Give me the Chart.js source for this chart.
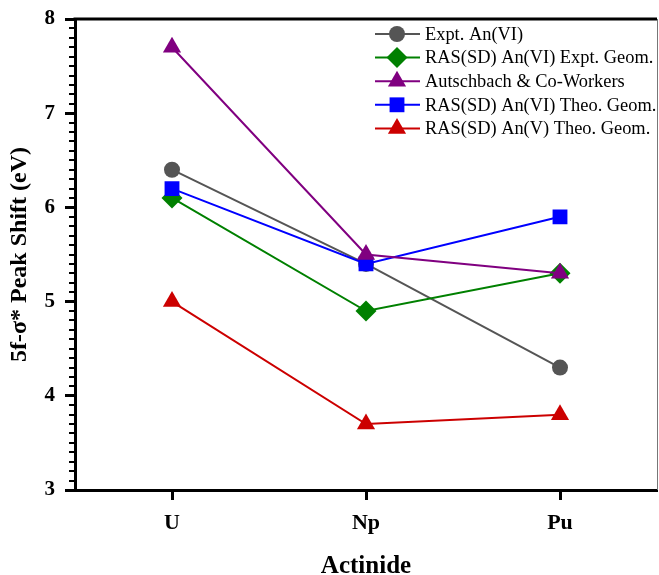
<!DOCTYPE html>
<html>
<head>
<meta charset="utf-8">
<script src="https://cdn.jsdelivr.net/npm/chart.js@4/dist/chart.umd.min.js"></script>
<style>
  html, body { margin: 0; padding: 0; background: #ffffff; overflow: hidden; }
  #wrap { width: 659px; height: 575px; }
  canvas { display: block; }
</style>
</head>
<body>
<div id="wrap"><canvas id="chart" width="659" height="575"></canvas></div>
<script>
// Actinides along the x axis
const actinides = ['U', 'Np', 'Pu'];

// 5f-σ* peak shifts (eV)
const exptAnVI      = [6.4, 5.4, 4.3];
const rasExptGeomVI = [6.1, 4.9, 5.3];
const autschbach    = [7.7, 5.5, 5.3];
const rasTheoGeomVI = [6.2, 5.4, 5.9];
const rasTheoGeomV  = [5.0, 3.7, 3.8];

const seriesNames = [
  'Expt. An(VI)',
  'RAS(SD) An(VI) Expt. Geom.',
  'Autschbach & Co-Workers',
  'RAS(SD) An(VI) Theo. Geom.',
  'RAS(SD) An(V) Theo. Geom.'
];

const yMin = 3, yMax = 8;

const serif = "'Liberation Serif', 'Times New Roman', serif";

function series(label, data, color, style, radius, order) {
  return {
    label, data,
    borderColor: color, backgroundColor: color,
    pointBackgroundColor: color, pointBorderColor: color,
    borderWidth: 2, pointStyle: style, pointRadius: radius,
    pointHoverRadius: radius, pointBorderWidth: 0,
    tension: 0, fill: false, order
  };
}

// Minor ticks on the y axis and the top/right frame lines
const framePlugin = {
  id: 'frame',
  afterDraw(chart) {
    const { ctx, chartArea: a, scales: { y } } = chart;
    ctx.save();
    ctx.strokeStyle = '#000';
    ctx.lineWidth = 2;
    for (let i = yMin * 10; i <= yMax * 10; i++) {
      if (i % 10 === 0) continue;
      const py = Math.round(y.getPixelForValue(i / 10));
      ctx.beginPath();
      ctx.moveTo(a.left - 6, py);
      ctx.lineTo(a.left, py);
      ctx.stroke();
    }
    // top frame
    ctx.lineWidth = 3;
    ctx.beginPath();
    ctx.moveTo(a.left - 1.5, a.top);
    ctx.lineTo(a.right, a.top);
    ctx.stroke();
    // right frame
    ctx.strokeStyle = '#777';
    ctx.lineWidth = 1;
    ctx.beginPath();
    ctx.moveTo(a.right + 0.5, a.top);
    ctx.lineTo(a.right + 0.5, a.bottom);
    ctx.stroke();
    ctx.restore();
  }
};

// Legend listed down the upper-right corner of the plot
const cornerLegend = {
  id: 'cornerLegend',
  afterDraw(chart) {
    const { ctx } = chart;
    const x0 = 375, x1 = 420, mx = 397, tx = 425;
    const y0 = 34, dy = 23.6;
    ctx.save();
    ctx.font = '18.4px ' + serif;
    ctx.textBaseline = 'middle';
    ctx.textAlign = 'left';
    seriesNames.forEach((name, i) => {
      const ds = chart.data.datasets.find(d => d.label === name);
      const yy = y0 + i * dy;
      ctx.strokeStyle = ds.borderColor;
      ctx.lineWidth = 2;
      ctx.beginPath();
      ctx.moveTo(x0, yy);
      ctx.lineTo(x1, yy);
      ctx.stroke();
      ctx.fillStyle = ds.backgroundColor;
      Chart.helpers.drawPoint(ctx, {
        pointStyle: ds.pointStyle, radius: ds.pointRadius, rotation: 0, borderWidth: 0
      }, mx, yy);
      ctx.fillStyle = '#000';
      ctx.fillText(name, tx, yy + 1);
    });
    ctx.restore();
  }
};

new Chart(document.getElementById('chart'), {
  type: 'line',
  data: {
    labels: actinides,
    datasets: [
      series(seriesNames[0], exptAnVI,      '#555555', 'circle',   8,    5),
      series(seriesNames[1], rasExptGeomVI, '#008000', 'rectRot',  10.5, 4),
      series(seriesNames[2], autschbach,    '#800080', 'triangle', 10.5, 2),
      series(seriesNames[3], rasTheoGeomVI, '#0000ff', 'rect',     10.5, 3),
      series(seriesNames[4], rasTheoGeomV,  '#cc0000', 'triangle', 10.5, 1)
    ]
  },
  options: {
    responsive: false,
    animation: false,
    events: [],
    layout: { autoPadding: false, padding: { top: 19, right: 2, left: 0, bottom: 0 } },
    plugins: {
      legend: { display: false },
      tooltip: { enabled: false }
    },
    scales: {
      x: {
        type: 'category',
        offset: true,
        afterFit(s) { s.height = 85; },
        grid: {
          offset: false, drawOnChartArea: false, drawTicks: true,
          tickLength: 10, tickWidth: 3, tickColor: '#000'
        },
        border: { display: true, color: '#000', width: 3 },
        ticks: {
          color: '#000', padding: 10,
          font: { family: serif, size: 22, weight: 'bold' }
        },
        title: {
          display: true, text: 'Actinide', color: '#000',
          font: { family: serif, size: 25, weight: 'bold', lineHeight: 1 },
          padding: { top: 0, bottom: -4 }
        }
      },
      y: {
        min: yMin, max: yMax,
        afterFit(s) { s.width = 75; s.paddingTop = 0; s.paddingBottom = 0; },
        grid: {
          drawOnChartArea: false, drawTicks: true,
          tickLength: 10, tickWidth: 3, tickColor: '#000'
        },
        border: { display: true, color: '#000', width: 3 },
        ticks: {
          stepSize: 1, color: '#000', padding: 10,
          font: { family: serif, size: 21, weight: 'bold' }
        },
        title: {
          display: true, text: '5f-σ* Peak Shift (eV)', color: '#000',
          font: { family: serif, size: 24, weight: 'bold', lineHeight: 1.2 },
          padding: { top: 5.6, bottom: 0 }
        }
      }
    }
  },
  plugins: [framePlugin, cornerLegend]
});
</script>
</body>
</html>
